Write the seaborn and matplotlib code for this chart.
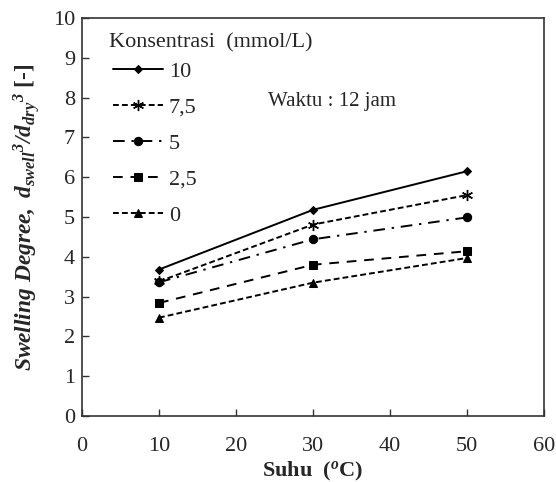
import matplotlib
matplotlib.use("Agg")
import matplotlib.pyplot as plt
import seaborn as sns
import pandas as pd

suhu = [10, 30, 50]
konsentrasi = ["10", "7,5", "5", "2,5", "0"]
k10 = [3.68, 5.18, 6.15]
k7_5 = [3.38, 4.81, 5.55]
k5 = [3.36, 4.44, 4.99]
k2_5 = [2.84, 3.80, 4.14]
k0 = [2.47, 3.35, 3.97]
series = [k10, k7_5, k5, k2_5, k0]

x_ticks = [0, 10, 20, 30, 40, 50, 60]
y_ticks = list(range(0, 11))

sns.set_theme(style="ticks")
plt.rcParams["font.family"] = ["Liberation Serif", "DejaVu Serif"]
plt.rcParams["mathtext.fontset"] = "custom"
plt.rcParams["mathtext.rm"] = "Liberation Serif:bold:italic"
plt.rcParams["mathtext.it"] = "Liberation Serif:bold:italic"
plt.rcParams["mathtext.bf"] = "Liberation Serif:bold:italic"

FS = 16

fig = plt.figure(figsize=(5.56, 4.82), dpi=100)
ax = fig.add_axes([82 / 556, 1 - 416 / 482, 462 / 556, 398 / 482])

styles = [
    dict(linestyle="-", marker="D", markersize=4.5),
    dict(linestyle=(0, (3, 1.6)), marker=(6, 2, 0), markersize=8, markeredgewidth=1.0),
    dict(linestyle=(0, (6, 3.5, 1.2, 3.5)), marker="o", markersize=6),
    dict(linestyle=(0, (5, 4)), marker="s", markersize=6),
    dict(linestyle=(0, (3, 1.6)), marker="^", markersize=6),
]

for name, vals, st in zip(konsentrasi, series, styles):
    df = pd.DataFrame({"Suhu": suhu, "SD": vals})
    sns.lineplot(data=df, x="Suhu", y="SD", ax=ax, color="black", linewidth=1.4,
                 markeredgecolor="black", markerfacecolor="black", label=name, **st)

ax.set_xlim(0, 60)
ax.set_ylim(0, 10)
ax.set_xticks(x_ticks)
ax.set_yticks(y_ticks)
ax.tick_params(direction="in", length=5, width=1, labelsize=FS, color="#333333")
ax.tick_params(axis="x", pad=15)
ax.tick_params(axis="y", pad=5)
for sp in ax.spines.values():
    sp.set_linewidth(1.2)
    sp.set_color("#333333")
    sp.set_visible(True)

ax.set_xlabel(r"Suhu  ($^{\rm o}$C)", fontsize=FS, fontweight="bold", labelpad=3)
ax.set_ylabel(r"$Swelling\ Degree,\ d_{swell}{}^{3}/d_{dry}{}^{3}$ [-]", fontsize=16.8,
              fontweight="bold", labelpad=8)

ax.text(24.2, 7.9, "Waktu : 12 jam", fontsize=15, va="center", ha="left")

ax.text((109 - 82) / 462, (416 - 43) / 398, "Konsentrasi  (mmol/L)", fontsize=FS,
        va="center", ha="left", transform=ax.transAxes)

leg = ax.legend(loc="upper left", bbox_to_anchor=((113 - 82) / 462, (416 - 61) / 398),
                frameon=False, fontsize=FS, handlelength=2.27, labelspacing=0.7,
                handletextpad=0.25, borderaxespad=0, borderpad=0)

fig.savefig("out.png", dpi=100)
